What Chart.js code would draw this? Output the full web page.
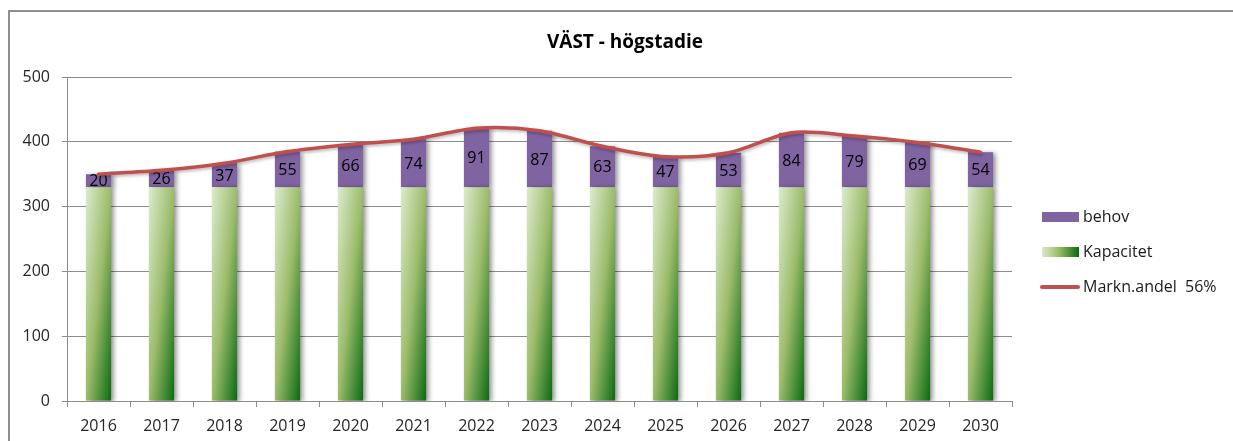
<!DOCTYPE html>
<html><head><meta charset="utf-8">
<script src="https://cdn.jsdelivr.net/npm/chart.js@4"></script>
<style>
html,body{margin:0;padding:0;background:#fff;overflow:hidden}
#wrap{position:relative;width:1233px;height:441px}
canvas{position:absolute;left:0;top:0}
#title{position:absolute;left:0;width:1250px;top:29px;text-align:center;font:bold 19px 'Open Sans';color:#000;line-height:24px;white-space:nowrap}
.lg{position:absolute;left:1042px;height:20px;font:16px 'Open Sans';color:#1a1a1a;line-height:20px;white-space:nowrap}
.sw{position:absolute;left:0;top:5px;width:37px;height:10px}
.lt{position:absolute;left:41px;top:-1px}
</style></head>
<body>
<div id="wrap">
<canvas id="c" width="1233" height="441"></canvas>
<div id="title">VÄST - högstadie</div>
<div class="lg" style="top:207px"><div class="sw" style="background:#8064a2"></div><div class="lt">behov</div></div>
<div class="lg" style="top:242px"><div class="sw" style="background:linear-gradient(90deg,#dcebcd,#9cbc6b 45%,#0b6a12)"></div><div class="lt">Kapacitet</div></div>
<div class="lg" style="top:277px"><div class="sw" style="top:8px;height:4px;left:-2px;width:40px;background:#c0504d;border-radius:2px"></div><div class="lt">Markn.andel&nbsp; 56%</div></div>
</div>
<script>
const years = ['2016','2017','2018','2019','2020','2021','2022','2023','2024','2025','2026','2027','2028','2029','2030'];
const kapacitet = [330,330,330,330,330,330,330,330,330,330,330,330,330,330,330];
const behov = [20,26,37,55,66,74,91,87,63,47,53,84,79,69,54];
const marknandel = [350,356,367,385,396,404,421,417,393,377,383,414,409,399,384];
const yMin = 0, yMax = 500, yStep = 100;

const BAR_PCT = 0.4;
function greenGrad(c){
  const chart = c.chart;
  const area = chart.chartArea;
  if (!area || c.dataIndex === undefined) return '#9cbc6b';
  const xs = chart.scales.x, ys = chart.scales.y;
  const cx = xs.getPixelForValue(c.dataIndex);
  const w = xs.width / years.length * BAR_PCT;
  const x0 = cx - w/2;
  const top = ys.getPixelForValue(kapacitet[c.dataIndex]);
  const bottom = ys.getPixelForValue(0);
  const h = bottom - top;
  const s = 2*w*h/(h*h + w*w);
  const g = chart.ctx.createLinearGradient(x0, top, x0 + s*h, top + s*w);
  g.addColorStop(0, '#dcebcd');
  g.addColorStop(0.5, '#9cbc6b');
  g.addColorStop(1, '#0b6a12');
  return g;
}

const fx = {
  id: 'fx',
  beforeDraw(chart){
    const ctx = chart.ctx;
    ctx.save();
    ctx.strokeStyle = '#8e8e8e';
    ctx.lineWidth = 2;
    ctx.beginPath();
    ctx.moveTo(9, 441); ctx.lineTo(9, 11); ctx.lineTo(1233, 11);
    ctx.stroke();
    ctx.restore();
  },
  beforeDatasetDraw(chart, args){
    const ctx = chart.ctx;
    ctx.save();
    if (args.meta.type === 'bar') {
      ctx.shadowColor = 'rgba(0,0,0,0.45)';
      ctx.shadowBlur = 5; ctx.shadowOffsetX = 3; ctx.shadowOffsetY = 1;
    } else {
      ctx.shadowColor = 'rgba(0,0,0,0.25)';
      ctx.shadowBlur = 3; ctx.shadowOffsetX = 1; ctx.shadowOffsetY = 2;
    }
  },
  afterDatasetDraw(chart, args){
    const ctx = chart.ctx;
    ctx.restore();
    if (args.index === 1) {
      ctx.save();
      ctx.font = '16px "Open Sans"';
      ctx.fillStyle = '#000';
      ctx.textAlign = 'center';
      ctx.textBaseline = 'middle';
      args.meta.data.forEach((el, i) => {
        ctx.fillText(String(behov[i]), el.x, (el.y + el.base)/2 + 1);
      });
      ctx.restore();
    }
  }
};

new Chart(document.getElementById('c'), {
  type: 'bar',
  data: {
    labels: years,
    datasets: [
      { type:'bar', label:'Kapacitet', data:kapacitet, backgroundColor:greenGrad, borderWidth:0, order:1, stack:'s' },
      { type:'bar', label:'behov', data:behov, backgroundColor:'#8064a2', borderWidth:0, order:2, stack:'s' },
      { type:'line', label:'Markn.andel  56%', data:marknandel, borderColor:'#c0504d', borderWidth:3.5, pointRadius:0, tension:0.3, borderCapStyle:'round', fill:false, order:0 }
    ]
  },
  options: {
    responsive:false, animation:false,
    devicePixelRatio:1,
    layout:{ padding:{ left:8, top:77, right:221, bottom:0 } },
    datasets:{ bar:{ categoryPercentage:1, barPercentage:BAR_PCT } },
    plugins:{ legend:{display:false}, title:{display:false}, tooltip:{enabled:false} },
    scales:{
      x:{
        stacked:true,
        grid:{ drawOnChartArea:false, drawTicks:true, tickLength:6, color:'#8c8c8c', offset:true },
        border:{ color:'#8c8c8c', width:1 },
        ticks:{ font:{family:'Open Sans', size:16}, color:'#262626', padding:10, maxRotation:0 },
        afterFit(s){ s.height = 40; }
      },
      y:{
        stacked:true, min:yMin, max:yMax,
        grid:{ color:'#8c8c8c', tickLength:5, drawTicks:true },
        border:{ color:'#8c8c8c', width:1 },
        ticks:{ stepSize:yStep, font:{family:'Open Sans', size:16}, color:'#262626', padding:12 },
        afterFit(s){ s.width = 59; }
      }
    }
  },
  plugins:[fx]
});
</script>
</body></html>
